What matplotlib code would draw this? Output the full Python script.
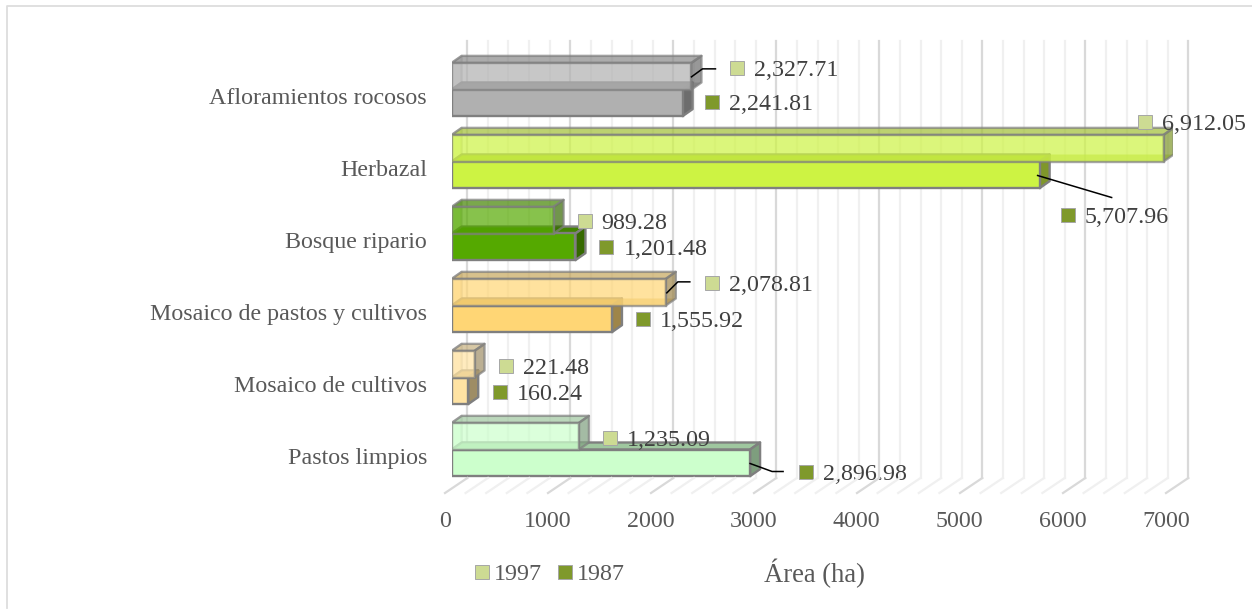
import matplotlib
matplotlib.use("Agg")
import matplotlib.pyplot as plt
from matplotlib.colors import to_rgb
from matplotlib.lines import Line2D
from matplotlib.patches import Polygon
from matplotlib.transforms import IdentityTransform, ScaledTranslation, offset_copy

categories = ["Pastos limpios", "Mosaico de cultivos", "Mosaico de pastos y cultivos",
              "Bosque ripario", "Herbazal", "Afloramientos rocosos"]
area_1997 = [1235.09, 221.48, 2078.81, 989.28, 6912.05, 2327.71]
area_1987 = [2896.98, 160.24, 1555.92, 1201.48, 5707.96, 2241.81]
bar_colors = ["#CCFFCC", "#FFE3A3", "#FFD675", "#55A900", "#CDF343", "#B0B0B0"]

# label positions, pixels from the end of the bar (marker centre)
off_1997 = [(31, -15), (31, -15), (46, -4), (31, -14), (-19, 13), (46, -5)]
off_1987 = [(56, -22), (32, -14), (31, -13), (31, -13), (28, -53), (29, -12)]
# leader lines, pixels from the end of the bar
lead_1997 = {2: [(1, -14), (12, -3), (24, -3)], 5: [(0, -14), (11, -6), (24, -6)]}
lead_1987 = {0: [(0, -14), (22, -22), (33, -22)], 4: [(-2, -14), (72, -36)]}

W, H = 1252, 609
DX, DY = 10, 7      # bar depth
BX = 15.6           # back wall shift
EDGE = "#7F7F7F"
plt.rcParams["font.family"] = "Liberation Serif"

fig = plt.figure(figsize=(W / 100, H / 100), dpi=100)
x0, x1, top, bottom = 451.7, 1172.7, 41, 493
ax = fig.add_axes([x0 / W, 1 - bottom / H, (x1 - x0) / W, (bottom - top) / H])
ax.set_xlim(0, 7000)
# one row is 72 px, row 0 boundary sits at 449.5 px
ax.set_ylim((449.5 - bottom) / 72, (449.5 - top) / 72)

# chart frame, only top and left show
fig.add_artist(Line2D([6.5, 6.5, W], [1, H - 5.5, H - 5.5], color="#DDDDDD", lw=1.3,
                      transform=IdentityTransform()))


def shade(c, f):
    return tuple(v * f for v in to_rgb(c))


def face(pts, color, alpha, z, ec=EDGE):
    ax.add_patch(Polygon(pts, closed=True, fc=color, ec=ec, lw=1.7, alpha=alpha,
                         transform=IdentityTransform(), zorder=z, joinstyle="round"))


def box(pos, val, h, color, alpha, z):
    # side and top of the bar; the front comes from barh
    (xa, ya), (xb, yb) = ax.transData.transform([(0, pos), (val, pos + h)])
    if alpha < 1:
        face([(xa, ya), (xb, ya), (xb + DX, ya + DY), (xa + DX, ya + DY)], shade(color, .85), .6, z, "none")
        face([(xa, ya), (xa + DX, ya + DY), (xa + DX, yb + DY), (xa, yb)], color, alpha * .4, z)
    face([(xa, yb), (xb, yb), (xb + DX, yb + DY), (xa + DX, yb + DY)], shade(color, .78), alpha, z)
    face([(xb, ya), (xb + DX, ya + DY), (xb + DX, yb + DY), (xb, yb)], shade(color, .62), alpha, z)
    ax.barh(pos, val, h, align="edge", color=color, edgecolor=EDGE, lw=1.7, alpha=alpha, zorder=z + .1)


# back wall and floor
back = offset_copy(ax.get_xaxis_transform(), fig, x=BX, y=0, units="dots")
for v in range(0, 7001, 200):
    major = v % 1000 == 0
    c = "#D9D9D9" if major else "#F0F0F0"
    ax.plot([v, v], [15 / 452, 1], color=c, lw=1.6, transform=back, zorder=1, clip_on=False)
    xb, yb = ax.transData.transform((v, ax.get_ylim()[0]))
    fig.add_artist(Line2D([xb - 6.7, xb + BX], [yb, yb + 15], color=c, lw=1.6,
                          transform=IdentityTransform()))

for i in range(len(categories)):
    box(i - .37, area_1987[i], .37, bar_colors[i], 1, 3 + 2 * i)
    box(i, area_1997[i], .37, bar_colors[i], .7, 3.5 + 2 * i)


def label(i, val, off, pos, marker, lead):
    xe, ye = ax.transData.transform((val, pos))
    xm, ym = xe + off[0], ye + off[1]
    ax.plot([xm], [ym], "s", ms=9.5, mfc=marker, mec="#A6A6A6", mew=.7,
            transform=IdentityTransform(), zorder=30, clip_on=False)
    ax.text(xm + 17, ym - 3, f"{val:,.2f}", fontsize=17.3, color="#404040", va="center",
            transform=IdentityTransform(), zorder=31)
    if lead:
        ax.plot([xe + p[0] for p in lead], [ye + p[1] for p in lead], color="black", lw=1.1,
                transform=IdentityTransform(), zorder=29, clip_on=False)


for i in range(len(categories)):
    label(i, area_1997[i], off_1997[i], i + .37, "#CDDB93", lead_1997.get(i))
    label(i, area_1987[i], off_1987[i], i, "#7F992B", lead_1987.get(i))

for s in ax.spines.values():
    s.set_visible(False)
ax.patch.set_visible(False)
ax.set_xticks(range(0, 7001, 1000))
ax.set_yticks(range(len(categories)))
ax.set_yticklabels(categories)
ax.tick_params(length=0, labelsize=17.3, labelcolor="#595959")
ax.tick_params(axis="x", pad=13)
ax.tick_params(axis="y", pad=17.8)
for t in ax.get_xticklabels():
    t.set_transform(t.get_transform() + ScaledTranslation(-5 / 72, 0, fig.dpi_scale_trans))
for t in ax.get_yticklabels():
    t.set_transform(t.get_transform() + ScaledTranslation(0, -5 / 72, fig.dpi_scale_trans))
ax.set_xlabel("Área (ha)", fontsize=19.2, color="#595959", labelpad=19, x=.5025)

h97 = Line2D([], [], ls="", marker="s", ms=9.5, mfc="#CDDB93", mec="#A6A6A6", mew=.7)
h87 = Line2D([], [], ls="", marker="s", ms=9.5, mfc="#7F992B", mec="#A6A6A6", mew=.7)
fig.legend([h97, h87], ["1997", "1987"], ncol=2, frameon=False, fontsize=17.3, labelcolor="#595959",
           loc="center", bbox_to_anchor=(550 / W, 1 - 574 / H), handlelength=.6, handletextpad=.2,
           columnspacing=.65)

fig.savefig("out.png", dpi=100, facecolor="white")
